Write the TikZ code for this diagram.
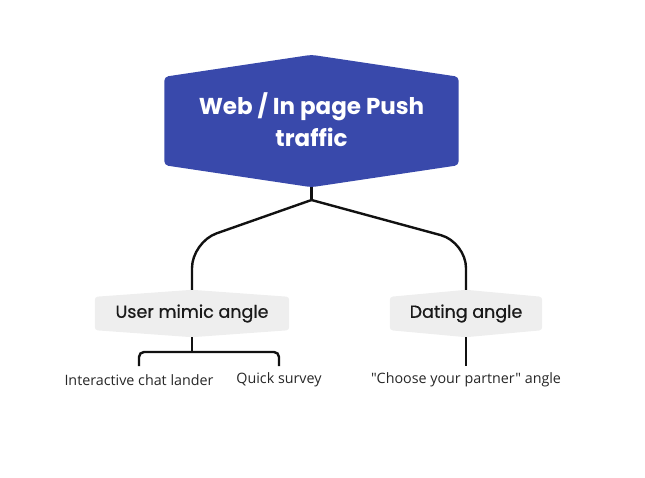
\documentclass[tikz,border=0pt]{standalone}
\usepackage{fontspec}
\setmainfont{Poppins}
\newfontfamily\smallfont{Open Sans}
\newfontfamily\medfont{Poppins}[FakeBold=0.6]
\usetikzlibrary{calc}
\definecolor{rootblue}{RGB}{57,73,171}
\definecolor{childgray}{RGB}{238,238,238}
\definecolor{linecol}{RGB}{17,17,17}
\tikzset{
  hexbox/.style={draw=none,inner sep=0pt,align=center},
  conn/.style={draw=linecol,line width=2.4pt},
  leaf/.style={inner sep=0pt,font=\smallfont\fontsize{14.3}{16}\selectfont,text=black!85},
  midtext/.style={font=\medfont\fontsize{17.5}{20}\selectfont,text=black!90},
}
\begin{document}
\begin{tikzpicture}[x=1pt,y=-1pt]
\useasboundingbox (0,0) rectangle (645,477);
% root
\node[hexbox,minimum width=294pt,minimum height=88pt] (root) at (311.5,121) {};
\fill[rootblue,rounded corners=4pt] (root.north west) -- ([yshift=22pt]root.north) -- (root.north east) -- (root.south east) -- ([yshift=-22pt]root.south) -- (root.south west) -- cycle;
\node[text=white,align=center,font=\bfseries\fontsize{23}{32}\selectfont] at ([yshift=1.5pt]root.center) {Web / In page Push\\traffic};
\coordinate (rootb) at ([yshift=-22pt]root.south);
% children
\node[hexbox,minimum width=194pt,minimum height=33pt] (user) at (192,313.5) {};
\node[hexbox,minimum width=152pt,minimum height=33pt] (dating) at (466,313.5) {};
\foreach \n in {user,dating}{
  \fill[childgray,rounded corners=3pt] (\n.north west) -- ([yshift=7pt]\n.north) -- (\n.north east) -- (\n.south east) -- ([yshift=-7pt]\n.south) -- (\n.south west) -- cycle;
}
\node[midtext] at (user.center) {User mimic angle};
\node[midtext] at (dating.center) {Dating angle};
% leaves
\node[leaf] (l1) at (139,380) {Interactive chat lander};
\node[leaf] (l2) at (279,380) {Quick survey};
\node[leaf] (l3) at (466,380) {"Choose your partner" angle};
% connectors
\coordinate (split) at (311.5,200);
\draw[conn] (rootb) -- (split);
\draw[conn,rounded corners=26pt] (split) -- (192,242) -- ([yshift=7pt]user.north);
\draw[conn,rounded corners=26pt] (split) -- (466,242) -- ([yshift=7pt]dating.north);
\coordinate (ub) at ([yshift=-7pt]user.south);
\draw[conn] (ub) -- (192,352);
\draw[conn,rounded corners=5pt] (l1.north |- 0,366) -- (l1.north |- 0,352) -- (l2.north |- 0,352) -- (l2.north |- 0,366);
\draw[conn] ([yshift=-7pt]dating.south) -- (l3.north |- 0,366);
\end{tikzpicture}
\end{document}
